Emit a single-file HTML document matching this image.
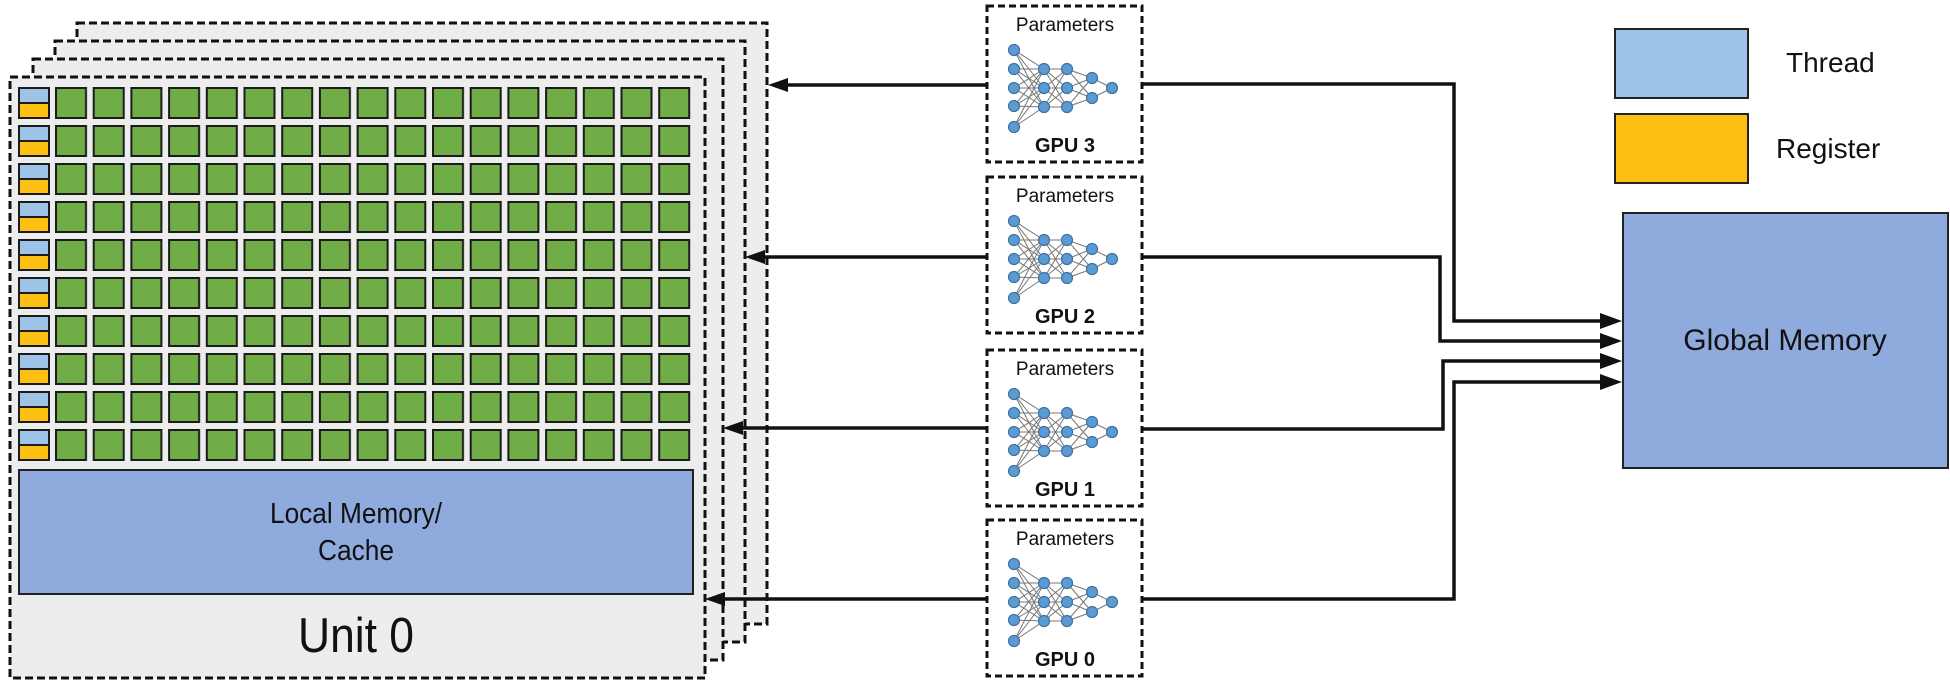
<!DOCTYPE html>
<html><head><meta charset="utf-8"><style>
html,body{margin:0;padding:0;background:#fff;}
svg{display:block;}
text{font-family:"Liberation Sans",Arial,sans-serif;fill:#111;}
</style></head><body>
<svg width="1950" height="685" viewBox="0 0 1950 685" xmlns="http://www.w3.org/2000/svg">
<defs>
  <pattern id="green" patternUnits="userSpaceOnUse" x="55" y="87" width="37.7" height="38">
    <rect x="1" y="1" width="30" height="30" fill="#70ad47" stroke="#1b1b1b" stroke-width="2"/>
  </pattern>
  <pattern id="tr" patternUnits="userSpaceOnUse" x="18" y="87" width="32" height="38">
    <rect x="1" y="1" width="30" height="15" fill="#9dc3e6" stroke="#1b1b1b" stroke-width="2"/>
    <rect x="1" y="16" width="30" height="15" fill="#fdbf12" stroke="#1b1b1b" stroke-width="2"/>
  </pattern>
  <g id="nn">
    <g stroke="#777" stroke-width="1">
      <path d="M27 44L57 63M27 44L57 82M27 44L57 101M27 63L57 63M27 63L57 82M27 63L57 101M27 82L57 63M27 82L57 82M27 82L57 101M27 100L57 63M27 100L57 82M27 100L57 101M27 121L57 63M27 121L57 82M27 121L57 101"/>
      <path d="M57 63L80 63M57 63L80 82M57 63L80 101M57 82L80 63M57 82L80 82M57 82L80 101M57 101L80 63M57 101L80 82M57 101L80 101"/>
      <path d="M80 63L105 72M80 63L105 92M80 82L105 72M80 82L105 92M80 101L105 72M80 101L105 92M105 72L125 82M105 92L125 82"/>
    </g>
    <g fill="#5b9bd5" stroke="#41719c" stroke-width="1.2">
      <circle cx="27" cy="44" r="5.5"/><circle cx="27" cy="63" r="5.5"/><circle cx="27" cy="82" r="5.5"/><circle cx="27" cy="100" r="5.5"/><circle cx="27" cy="121" r="5.5"/>
      <circle cx="57" cy="63" r="5.5"/><circle cx="57" cy="82" r="5.5"/><circle cx="57" cy="101" r="5.5"/>
      <circle cx="80" cy="63" r="5.5"/><circle cx="80" cy="82" r="5.5"/><circle cx="80" cy="101" r="5.5"/>
      <circle cx="105" cy="72" r="5.5"/><circle cx="105" cy="92" r="5.5"/>
      <circle cx="125" cy="82" r="5.5"/>
    </g>
    <rect x="0" y="0" width="155" height="156" fill="none" stroke="#111" stroke-width="3" stroke-dasharray="7,4"/>
  </g>
</defs>

<g stroke="#111" stroke-width="3" stroke-dasharray="8,4" fill="#ededed">
  <rect x="77" y="23" width="690" height="601"/>
  <rect x="55" y="41" width="690" height="601"/>
  <rect x="33" y="59" width="690" height="601"/>
  <rect x="10" y="77" width="695" height="601"/>
</g>
<rect x="18" y="87" width="32" height="374" fill="url(#tr)"/>
<rect x="55" y="87" width="637" height="374" fill="url(#green)"/>
<rect x="19" y="470" width="674" height="124" fill="#8faadc" stroke="#222" stroke-width="2"/>
<text x="356" y="523" font-size="29" text-anchor="middle" textLength="172" lengthAdjust="spacingAndGlyphs">Local Memory/</text>
<text x="356" y="560" font-size="29" text-anchor="middle" textLength="76" lengthAdjust="spacingAndGlyphs">Cache</text>
<text x="356" y="652" font-size="49" text-anchor="middle" textLength="116" lengthAdjust="spacingAndGlyphs">Unit 0</text>

<g transform="translate(987,6)"><use href="#nn"/><text x="78" y="25" font-size="19" text-anchor="middle">Parameters</text><text x="78" y="146" font-size="20" font-weight="bold" text-anchor="middle">GPU 3</text></g>
<g transform="translate(987,177)"><use href="#nn"/><text x="78" y="25" font-size="19" text-anchor="middle">Parameters</text><text x="78" y="146" font-size="20" font-weight="bold" text-anchor="middle">GPU 2</text></g>
<g transform="translate(987,350)"><use href="#nn"/><text x="78" y="25" font-size="19" text-anchor="middle">Parameters</text><text x="78" y="146" font-size="20" font-weight="bold" text-anchor="middle">GPU 1</text></g>
<g transform="translate(987,520)"><use href="#nn"/><text x="78" y="25" font-size="19" text-anchor="middle">Parameters</text><text x="78" y="146" font-size="20" font-weight="bold" text-anchor="middle">GPU 0</text></g>

<g stroke="#111" stroke-width="3.5" fill="none">
  <line x1="987" y1="85" x2="785" y2="85"/>
  <line x1="987" y1="257" x2="763" y2="257"/>
  <line x1="987" y1="428" x2="741" y2="428"/>
  <line x1="987" y1="599" x2="723" y2="599"/>
</g>
<g fill="#111">
  <polygon points="768,85 788,78 788,92"/>
  <polygon points="745,257 765,250 765,264"/>
  <polygon points="723,428 743,421 743,435"/>
  <polygon points="705,599 725,592 725,606"/>
</g>

<g stroke="#111" stroke-width="3.5" fill="none" stroke-linejoin="miter">
  <polyline points="1142,84 1454,84 1454,321 1604,321"/>
  <polyline points="1142,257 1440,257 1440,341 1604,341"/>
  <polyline points="1142,429 1443,429 1443,361 1604,361"/>
  <polyline points="1142,599 1454,599 1454,382 1604,382"/>
</g>
<g fill="#111">
  <polygon points="1622,321 1600,313 1600,329"/>
  <polygon points="1622,341 1600,333 1600,349"/>
  <polygon points="1622,361 1600,353 1600,369"/>
  <polygon points="1622,382 1600,374 1600,390"/>
</g>

<rect x="1623" y="213" width="325" height="255" fill="#8faadc" stroke="#222" stroke-width="2"/>
<text x="1785" y="350" font-size="30" text-anchor="middle">Global Memory</text>

<rect x="1615" y="29" width="133" height="69" fill="#9dc3e6" stroke="#222" stroke-width="2"/>
<rect x="1615" y="114" width="133" height="69" fill="#fdbf12" stroke="#222" stroke-width="2"/>
<text x="1786" y="72" font-size="28">Thread</text>
<text x="1776" y="158" font-size="28">Register</text>
</svg>
</body></html>
